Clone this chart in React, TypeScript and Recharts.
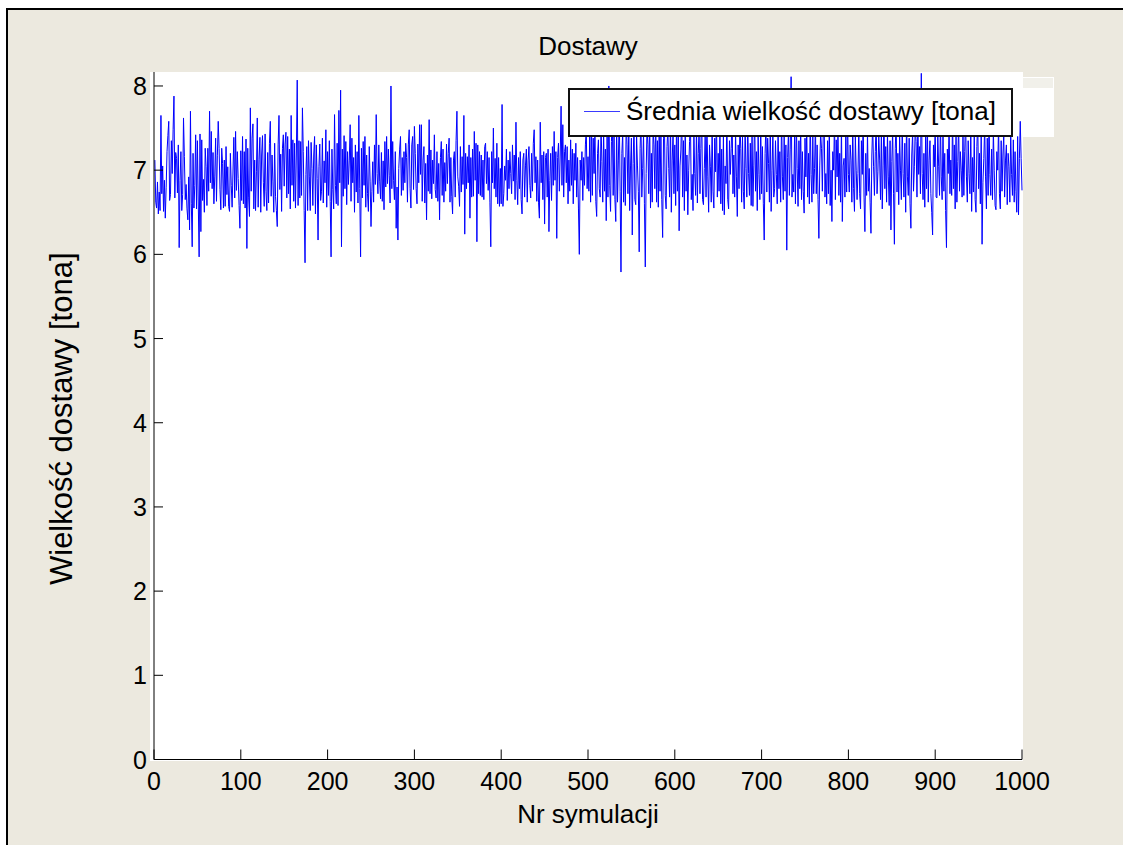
import React from 'react';
import { LineChart, Line, XAxis, YAxis, Legend, Label, Customized } from 'recharts';

// Średnia wielkość dostawy [tona] for each simulation run (1..1000)
const deliveries = [
  7.12, 6.62, 6.55, 6.86, 6.48, 6.74, 6.52, 7.65, 6.72, 7.05, 6.51, 6.88, 6.43, 6.79, 7.22, 7.41, 7.58, 6.64, 6.71, 7.35, 6.96, 7.48, 7.88, 6.67, 7.21,
  7.14, 6.73, 7.30, 6.08, 6.88, 7.22, 6.52, 6.71, 7.62, 7.16, 6.65, 6.83, 6.54, 6.41, 6.92, 6.29, 7.70, 6.60, 6.09, 7.20, 6.55, 6.82, 7.42, 6.54, 7.35,
  6.61, 5.97, 7.43, 6.27, 7.36, 6.64, 6.89, 6.50, 7.26, 7.04, 6.58, 7.26, 6.75, 7.70, 6.85, 7.46, 6.78, 7.21, 6.60, 6.93, 7.38, 6.63, 7.17, 7.58, 7.26,
  6.77, 6.53, 7.26, 7.08, 6.55, 7.12, 6.57, 7.28, 6.71, 7.04, 6.57, 6.51, 7.20, 6.82, 6.56, 6.99, 7.39, 6.67, 7.46, 6.76, 7.22, 6.90, 6.58, 6.31, 7.23,
  6.64, 7.40, 6.60, 7.22, 6.55, 7.37, 6.07, 7.26, 6.68, 6.45, 7.74, 6.75, 7.38, 7.55, 6.54, 7.12, 6.52, 6.98, 7.62, 6.56, 7.13, 7.39, 6.50, 7.18, 7.41,
  6.85, 6.57, 7.43, 6.75, 6.52, 7.21, 6.61, 7.32, 7.58, 6.69, 7.18, 6.86, 6.50, 7.32, 6.69, 6.52, 6.33, 7.30, 7.65, 6.77, 7.19, 6.51, 7.26, 7.42, 6.81,
  7.31, 7.45, 6.67, 7.40, 6.72, 7.25, 6.54, 7.65, 6.82, 7.36, 6.63, 7.32, 6.55, 7.18, 8.07, 6.58, 7.35, 6.67, 7.34, 6.70, 7.74, 7.22, 6.52, 5.90, 6.95,
  7.28, 6.52, 7.35, 6.92, 6.52, 7.33, 7.02, 6.58, 7.18, 7.40, 6.48, 7.30, 6.90, 6.17, 7.04, 7.31, 6.64, 6.75, 7.38, 6.61, 7.11, 6.85, 7.48, 6.56, 7.22,
  6.70, 7.35, 6.63, 5.97, 7.25, 6.77, 6.54, 7.66, 6.82, 6.60, 7.32, 6.58, 7.71, 6.85, 7.95, 6.09, 7.25, 6.69, 7.41, 6.78, 7.34, 6.59, 7.22, 6.83, 7.12,
  7.54, 6.63, 7.38, 6.85, 7.15, 6.50, 7.30, 6.74, 7.22, 6.61, 7.65, 6.78, 5.97, 7.26, 6.67, 7.34, 6.82, 7.40, 6.56, 7.18, 6.72, 6.51, 7.28, 6.87, 6.33,
  6.75, 7.10, 6.62, 7.30, 6.83, 7.66, 6.96, 6.72, 7.30, 6.87, 6.66, 7.21, 6.63, 7.11, 6.53, 7.34, 6.80, 7.40, 6.84, 7.25, 6.94, 6.61, 8.00, 6.78, 7.34,
  6.88, 6.65, 7.22, 6.31, 6.80, 6.17, 7.02, 7.25, 7.40, 6.70, 7.15, 6.76, 7.22, 6.85, 7.32, 7.15, 6.62, 7.30, 7.48, 6.78, 6.55, 7.30, 7.40, 6.77, 7.52,
  7.20, 6.78, 6.60, 7.31, 6.85, 7.54, 6.95, 7.54, 6.63, 7.12, 7.28, 6.61, 7.08, 6.41, 7.18, 6.75, 7.60, 6.72, 7.24, 6.66, 7.12, 6.84, 7.42, 6.77, 6.67,
  7.22, 6.63, 7.08, 6.41, 7.15, 7.34, 6.70, 7.25, 6.62, 7.09, 6.75, 7.31, 6.84, 7.20, 7.38, 6.62, 7.15, 6.69, 6.48, 7.12, 7.22, 6.68, 7.35, 7.70, 6.92,
  6.81, 6.57, 7.28, 6.74, 7.16, 6.83, 7.65, 6.24, 7.20, 6.78, 7.16, 6.85, 7.30, 6.43, 7.15, 6.68, 7.25, 6.69, 7.46, 6.88, 7.32, 6.15, 7.30, 6.72, 7.22,
  6.70, 7.18, 6.68, 7.12, 6.65, 7.28, 7.32, 6.84, 7.22, 6.76, 7.15, 6.62, 6.09, 7.22, 6.85, 7.50, 6.78, 7.14, 6.68, 7.32, 6.60, 7.15, 6.57, 7.02, 6.60,
  7.78, 6.57, 6.72, 7.05, 6.88, 7.25, 6.64, 7.12, 6.78, 7.22, 6.96, 6.72, 7.30, 6.87, 7.18, 6.65, 7.57, 6.88, 6.59, 7.15, 6.78, 7.22, 6.65, 6.48, 7.12,
  7.20, 6.68, 7.06, 7.25, 6.62, 7.12, 7.28, 6.82, 6.67, 7.20, 6.75, 7.32, 7.48, 6.85, 7.16, 6.63, 7.12, 6.62, 6.43, 7.57, 6.85, 7.18, 6.65, 7.22, 6.36,
  7.15, 7.20, 6.68, 7.25, 6.27, 6.88, 7.20, 6.64, 7.28, 6.82, 7.46, 6.88, 7.22, 6.19, 7.15, 7.32, 6.75, 7.18, 7.76, 6.82, 7.54, 6.68, 7.22, 7.30, 6.85,
  7.28, 6.60, 7.12, 6.75, 7.36, 6.82, 7.25, 6.60, 7.20, 6.88, 7.32, 6.68, 7.15, 6.55, 6.00, 7.12, 6.88, 7.22, 6.64, 7.15, 6.82, 7.30, 7.50, 6.78, 7.16,
  6.75, 7.45, 6.62, 7.60, 6.70, 7.38, 6.96, 7.52, 6.63, 6.45, 7.20, 7.36, 6.78, 6.68, 7.55, 7.10, 6.62, 7.48, 6.75, 7.25, 6.40, 7.42, 6.68, 8.00, 6.82,
  6.51, 7.34, 7.65, 6.70, 7.42, 6.65, 6.39, 7.55, 6.62, 7.12, 7.70, 6.75, 5.79, 7.20, 7.45, 6.62, 7.15, 6.58, 7.60, 7.30, 6.72, 7.48, 6.52, 7.05, 7.38,
  6.23, 7.08, 7.58, 6.65, 6.59, 7.40, 7.05, 6.75, 6.03, 7.26, 7.62, 6.68, 7.02, 7.45, 6.60, 5.85, 6.96, 7.52, 7.30, 6.72, 7.68, 6.55, 7.20, 6.62, 7.48,
  7.30, 6.78, 7.72, 6.62, 7.35, 6.56, 7.55, 6.75, 7.42, 6.65, 6.20, 7.38, 7.62, 6.70, 6.54, 7.28, 7.50, 7.02, 6.68, 7.65, 6.50, 7.12, 7.45, 6.72, 7.30,
  6.58, 7.58, 6.75, 7.40, 6.28, 7.05, 7.24, 7.70, 6.68, 7.35, 6.52, 7.52, 6.75, 7.18, 6.47, 7.00, 7.34, 7.62, 6.65, 6.95, 6.52, 7.45, 6.96, 6.70, 7.55,
  6.61, 7.20, 7.48, 6.72, 7.26, 7.75, 6.65, 6.59, 7.02, 7.42, 6.68, 7.60, 6.92, 6.50, 7.30, 7.04, 6.62, 7.55, 6.75, 6.55, 7.38, 6.98, 7.68, 6.68, 7.20,
  6.75, 7.50, 6.60, 7.25, 6.52, 7.42, 6.47, 7.05, 6.84, 7.62, 6.65, 6.54, 7.35, 6.95, 7.26, 7.72, 6.72, 7.18, 6.68, 7.46, 6.92, 6.45, 7.30, 6.78, 7.58,
  7.26, 6.62, 7.40, 6.75, 6.54, 7.52, 7.02, 6.68, 7.65, 6.96, 6.70, 7.32, 6.58, 7.48, 6.57, 7.05, 7.70, 6.75, 7.22, 6.52, 7.40, 6.95, 6.65, 7.58, 6.72,
  7.28, 6.60, 6.17, 7.20, 7.55, 6.74, 7.38, 7.08, 6.62, 7.62, 6.51, 7.00, 7.45, 6.68, 6.78, 7.35, 6.95, 6.60, 7.52, 6.78, 7.22, 6.62, 7.68, 6.92, 6.65,
  7.40, 6.75, 7.30, 6.05, 7.15, 7.48, 6.70, 7.25, 8.11, 6.68, 6.95, 6.74, 7.42, 6.60, 7.60, 7.02, 6.57, 7.35, 6.78, 7.55, 6.65, 7.22, 6.75, 6.49, 7.38,
  6.92, 7.50, 6.68, 7.20, 6.60, 7.65, 6.95, 6.62, 7.40, 6.72, 7.02, 7.58, 6.72, 7.30, 6.65, 6.19, 7.05, 7.45, 7.26, 6.75, 7.42, 7.70, 6.68, 6.96, 6.60,
  7.35, 6.72, 7.52, 6.58, 7.00, 6.39, 7.22, 7.00, 7.62, 6.65, 7.36, 6.92, 7.48, 6.70, 7.20, 6.62, 7.55, 6.39, 7.05, 7.14, 6.68, 7.42, 6.74, 7.68, 6.95,
  6.74, 7.30, 7.12, 6.62, 7.58, 6.78, 6.51, 7.40, 7.00, 6.65, 6.96, 7.52, 6.72, 6.54, 7.35, 6.95, 7.65, 6.68, 6.27, 7.20, 6.70, 7.45, 6.75, 7.02, 6.62,
  6.25, 7.18, 7.55, 7.04, 6.70, 7.22, 7.62, 6.72, 6.98, 7.40, 7.12, 6.65, 7.50, 6.54, 7.05, 7.70, 6.78, 7.28, 6.62, 7.45, 6.92, 6.58, 7.35, 6.29, 7.10,
  7.48, 6.72, 6.12, 7.26, 7.60, 6.74, 7.20, 6.59, 7.42, 7.00, 6.65, 7.55, 6.96, 6.68, 7.32, 6.50, 7.65, 6.92, 6.70, 7.38, 6.60, 6.31, 7.18, 7.45, 6.75,
  7.04, 7.52, 7.34, 6.68, 7.62, 6.95, 7.28, 6.72, 8.15, 6.96, 6.65, 7.20, 6.56, 7.45, 6.78, 7.58, 6.62, 7.12, 7.35, 6.72, 6.50, 6.23, 7.30, 7.04, 7.55,
  6.68, 6.67, 7.40, 7.04, 6.70, 7.62, 6.92, 6.65, 7.48, 6.75, 7.20, 6.52, 6.08, 7.25, 6.96, 7.55, 6.72, 7.12, 6.70, 7.68, 6.78, 7.30, 6.54, 7.42, 6.62,
  7.10, 7.58, 6.75, 7.22, 7.00, 6.68, 7.45, 6.70, 7.22, 7.65, 6.92, 6.62, 7.35, 6.96, 6.72, 7.50, 6.51, 7.15, 6.74, 7.40, 6.65, 6.50, 7.28, 7.60, 6.78,
  7.20, 6.60, 7.45, 6.12, 6.85, 7.14, 7.52, 6.92, 6.54, 7.38, 6.70, 7.62, 6.95, 6.70, 7.25, 6.65, 7.48, 7.00, 6.58, 6.53, 7.22, 7.00, 7.55, 6.72, 6.54,
  7.35, 6.75, 7.18, 7.42, 6.68, 7.12, 7.30, 6.59, 7.20, 7.04, 6.62, 7.45, 6.95, 6.70, 7.36, 6.62, 7.22, 6.75, 6.50, 7.40, 6.47, 7.14, 7.58, 7.14, 6.76,
];

const xTicks = [0, 100, 200, 300, 400, 500, 600, 700, 800, 900, 1000];
const yTicks = [0, 1, 2, 3, 4, 5, 6, 7, 8];

const chartTitle = 'Dostawy';
const xTitle = 'Nr symulacji';
const yTitle = 'Wielkość dostawy [tona]';
const seriesName = 'Średnia wielkość dostawy [tona]';

const FONT = '"Liberation Sans", Arial, Helvetica, sans-serif';
const BG = '#ECE9DF';

const data = deliveries.map((v, i) => ({ nr: i + 1, v }));

// ticks point into the plot, MATLAB style
const XTick = ({ x, y, payload }: any) => (
  <g>
    <line x1={x} y1={y} x2={x} y2={y - 10} stroke="#000" strokeWidth={1} />
    <text x={x} y={y + 30} textAnchor="middle" fontSize={25} fontFamily={FONT} fill="#000">
      {payload.value}
    </text>
  </g>
);

const YTick = ({ x, y, payload }: any) => (
  <g>
    <line x1={x} y1={y} x2={x + 9} y2={y} stroke="#000" strokeWidth={1} />
    <text x={x - 7} y={y + 9} textAnchor="end" fontSize={25} fontFamily={FONT} fill="#000">
      {payload.value}
    </text>
  </g>
);

const LegendBox = () => (
  <div
    style={{
      position: 'relative',
      width: 445,
      height: 49,
      boxSizing: 'border-box',
      border: '2px solid #111',
      background: '#fff',
      fontFamily: FONT,
    }}
  >
    <div style={{ position: 'absolute', left: 14, top: 21, width: 36, height: 1, background: '#3a3aff' }} />
    <div style={{ position: 'absolute', left: 56, top: 4, fontSize: 26, lineHeight: '34px', color: '#000', whiteSpace: 'nowrap' }}>
      {seriesName}
    </div>
  </div>
);

const Title = () => (
  <text x={588} y={55} textAnchor="middle" fontSize={26} fontFamily={FONT} fill="#000">
    {chartTitle}
  </text>
);

export default function App() {
  return (
    <div style={{ position: 'absolute', left: 0, top: 0, width: 1123, height: 845, background: '#fff', overflow: 'hidden' }}>
      {/* figure window */}
      <div
        style={{
          position: 'absolute',
          left: 6,
          top: 8,
          width: 1130,
          height: 850,
          background: BG,
          borderLeft: '2px solid #000',
          borderTop: '2px solid #000',
        }}
      />
      {/* axes background */}
      <div style={{ position: 'absolute', left: 150, top: 72, width: 873, height: 689, background: '#fff' }} />
      {/* stray legend background to the right of the axes */}
      <div style={{ position: 'absolute', left: 1023, top: 77, width: 31, height: 60, background: '#fff' }} />
      <div style={{ position: 'absolute', left: 1023, top: 78, width: 30, height: 10, background: '#F1F0EA' }} />

      <div style={{ position: 'absolute', left: 0, top: 0 }}>
        <LineChart width={1123} height={845} data={data} margin={{ top: 72, right: 101, bottom: 45.5, left: 94 }}>
          <XAxis
            dataKey="nr"
            type="number"
            domain={[0, 1000]}
            ticks={xTicks}
            height={40}
            tickSize={0}
            tickMargin={0}
            tickLine={false}
            axisLine={{ stroke: '#000', strokeWidth: 1 }}
            tick={(p: any) => <XTick {...p} />}
            interval={0}
          >
            <Label
              content={({ viewBox }: any) => (
                <text
                  x={viewBox.x + viewBox.width / 2}
                  y={viewBox.y + 63.5}
                  textAnchor="middle"
                  fontSize={26}
                  fontFamily={FONT}
                  fill="#000"
                >
                  {xTitle}
                </text>
              )}
            />
          </XAxis>
          <YAxis
            type="number"
            domain={[0, 8.166]}
            ticks={yTicks}
            width={60}
            tickSize={0}
            tickMargin={0}
            tickLine={false}
            axisLine={{ stroke: '#000', strokeWidth: 1 }}
            tick={(p: any) => <YTick {...p} />}
            interval={0}
          >
            <Label
              content={({ viewBox }: any) => {
                const lx = viewBox.x + viewBox.width - 82;
                const ly = viewBox.y + viewBox.height / 2 + 3;
                return (
                  <text
                    x={lx}
                    y={ly}
                    transform={`rotate(-90, ${lx}, ${ly})`}
                    textAnchor="middle"
                    fontSize={31}
                    fontFamily={FONT}
                    fill="#000"
                  >
                    {yTitle}
                  </text>
                );
              }}
            />
          </YAxis>
          <Line
            type="linear"
            dataKey="v"
            name={seriesName}
            stroke="#0000FF"
            strokeWidth={1}
            dot={false}
            activeDot={false}
            isAnimationActive={false}
          />
          <Legend
            layout="vertical"
            align="center"
            verticalAlign="middle"
            content={() => <LegendBox />}
            wrapperStyle={{ left: 568, top: 88, width: 445, height: 49 }}
          />
          <Customized component={<Title />} />
        </LineChart>
      </div>
    </div>
  );
}
